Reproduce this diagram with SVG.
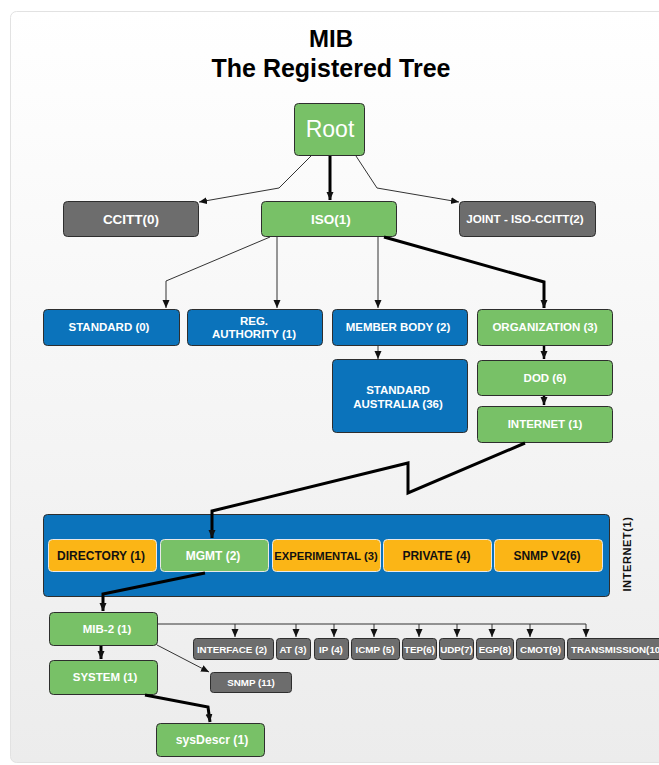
<svg xmlns="http://www.w3.org/2000/svg" width="659" height="765" viewBox="0 0 659 765">
<defs>
<linearGradient id="bg" x1="0" y1="0" x2="0" y2="1">
<stop offset="0" stop-color="#ffffff"/>
<stop offset="1" stop-color="#ececec"/>
</linearGradient>
<marker id="ah" markerUnits="userSpaceOnUse" markerWidth="10" markerHeight="10" refX="8" refY="3.5" orient="auto">
<path d="M0,0 L8,3.5 L0,7 z" fill="#111"/>
</marker>
</defs>
<style>
.n rect{stroke:#2e2e2e;stroke-width:1}
.g rect{fill:#78c167}
.b rect{fill:#0b73bb}
.k rect{fill:#6d6d6d}
.o rect{fill:#fbb516;stroke:#e8e8e8}
.gi rect{fill:#78c167;stroke:#e8e8e8}
text{font-family:"Liberation Sans",Arial,sans-serif;font-weight:bold;text-anchor:middle}
.w{fill:#ffffff;font-size:11.5px}
.d{fill:#111;font-size:12px}
.s{fill:#ffffff;font-size:9.8px}
.thin{fill:none;stroke:#333;stroke-width:1;marker-end:url(#ah)}
.thick{fill:none;stroke:#000;stroke-width:3;marker-end:url(#ah)}
.mid{fill:none;stroke:#000;stroke-width:2.5;marker-end:url(#ah)}
.line{fill:none;stroke:#333;stroke-width:1}
</style>
<rect x="10.5" y="11.5" width="660" height="751" rx="6" fill="url(#bg)" stroke="#e2e2e2"/>
<text x="331" y="47" style="font-size:24px;fill:#000">MIB</text>
<text x="331" y="77" style="font-size:25px;fill:#000">The Registered Tree</text>

<g id="root" class="n g"><rect x="294.5" y="103.5" width="70" height="52" rx="4"/><text x="330" y="137" style="font-size:23px;font-weight:normal;fill:#fff">Root</text></g>
<g id="ccitt" class="n k"><rect x="63.5" y="201.5" width="135" height="35" rx="4"/><text class="w" x="131" y="223.5" style="font-size:13.5px">CCITT(0)</text></g>
<g id="iso" class="n g"><rect x="261.5" y="201.5" width="135" height="35" rx="4"/><text class="w" x="331" y="223.5" style="font-size:13.5px">ISO(1)</text></g>
<g id="joint" class="n k"><rect x="459.5" y="201.5" width="136" height="35" rx="4"/><text class="w" x="525" y="223" style="font-size:11.7px">JOINT - ISO-CCITT(2)</text></g>

<g id="standard" class="n b"><rect x="43.5" y="309.5" width="136" height="36" rx="4"/><text class="w" x="109" y="331">STANDARD (0)</text></g>
<g id="reg" class="n b"><rect x="187.5" y="309.5" width="135" height="36" rx="4"/><text class="w" x="254" y="325">REG.</text><text class="w" x="254" y="338">AUTHORITY (1)</text></g>
<g id="member" class="n b"><rect x="332.5" y="309.5" width="135" height="36" rx="4"/><text class="w" x="398" y="331">MEMBER BODY (2)</text></g>
<g id="organization" class="n g"><rect x="477.5" y="309.5" width="135" height="36" rx="4"/><text class="w" x="545" y="331">ORGANIZATION (3)</text></g>
<g id="stdaus" class="n b"><rect x="332.5" y="359.5" width="135" height="73" rx="4"/><text class="w" x="398" y="394">STANDARD</text><text class="w" x="398" y="408">AUSTRALIA (36)</text></g>
<g id="dod" class="n g"><rect x="477.5" y="360.5" width="135" height="35" rx="4"/><text class="w" x="545" y="382">DOD (6)</text></g>
<g id="internet" class="n g"><rect x="477.5" y="406.5" width="135" height="36" rx="4"/><text class="w" x="545" y="428">INTERNET (1)</text></g>

<g id="internet-group" class="n b"><rect x="43.5" y="514.5" width="566" height="82" rx="4"/>
<text x="627" y="554" transform="rotate(-90 627 554)" style="font-size:11px;fill:#111;letter-spacing:0.6px" dominant-baseline="central">INTERNET(1)</text></g>
<g id="directory" class="n o"><rect x="48.5" y="539.5" width="108" height="32" rx="4"/><text class="d" x="101" y="559.5">DIRECTORY (1)</text></g>
<g id="mgmt" class="n gi"><rect x="160.5" y="539.5" width="108" height="32" rx="4"/><text class="w" x="213" y="559.5" style="font-size:12px">MGMT (2)</text></g>
<g id="experimental" class="n o"><rect x="272.5" y="539.5" width="108" height="32" rx="4"/><text class="d" x="326" y="559.5" style="font-size:11.2px">EXPERIMENTAL (3)</text></g>
<g id="private" class="n o"><rect x="383.5" y="539.5" width="108" height="32" rx="4"/><text class="d" x="436.5" y="559.5">PRIVATE (4)</text></g>
<g id="snmpv2" class="n o"><rect x="494.5" y="539.5" width="108" height="32" rx="4"/><text class="d" x="547" y="559.5">SNMP V2(6)</text></g>

<g id="mib2" class="n g"><rect x="49.5" y="612.5" width="108" height="33" rx="4"/><text class="w" x="107" y="633">MIB-2 (1)</text></g>
<g id="system" class="n g"><rect x="49.5" y="660.5" width="108" height="34" rx="4"/><text class="w" x="105" y="681">SYSTEM (1)</text></g>
<g id="sysdescr" class="n g"><rect x="156.5" y="723.5" width="108" height="33" rx="4"/><text class="w" x="212" y="744" style="font-size:12.2px">sysDescr (1)</text></g>

<g id="interface" class="n k"><rect x="193.5" y="638.5" width="80" height="21" rx="3"/><text class="s" x="232" y="652.5">INTERFACE (2)</text></g>
<g id="at" class="n k"><rect x="276.5" y="638.5" width="34" height="21" rx="3"/><text class="s" x="293" y="652.5">AT (3)</text></g>
<g id="ip" class="n k"><rect x="314.5" y="638.5" width="34" height="21" rx="3"/><text class="s" x="331" y="652.5">IP (4)</text></g>
<g id="icmp" class="n k"><rect x="351.5" y="638.5" width="48" height="21" rx="3"/><text class="s" x="375" y="652.5">ICMP (5)</text></g>
<g id="tep" class="n k"><rect x="402.5" y="638.5" width="34" height="21" rx="3"/><text class="s" x="419.5" y="652.5">TEP(6)</text></g>
<g id="udp" class="n k"><rect x="439.5" y="638.5" width="34" height="21" rx="3"/><text class="s" x="456.5" y="652.5">UDP(7)</text></g>
<g id="egp" class="n k"><rect x="476.5" y="638.5" width="37" height="21" rx="3"/><text class="s" x="495" y="652.5">EGP(8)</text></g>
<g id="cmot" class="n k"><rect x="516.5" y="638.5" width="48" height="21" rx="3"/><text class="s" x="540.5" y="652.5">CMOT(9)</text></g>
<g id="transmission" class="n k"><rect x="567.5" y="638.5" width="110" height="21" rx="3"/><text class="s" x="571" y="652.5" style="text-anchor:start">TRANSMISSION(10)</text></g>
<g id="snmp11" class="n k"><rect x="210.5" y="672.5" width="81" height="20" rx="3"/><text class="s" x="251" y="686">SNMP (11)</text></g>

<g id="connectors">
<path class="thin" d="M311,156 L279,188 L199,202"/>
<path class="thick" d="M330,156 L330,200"/>
<path class="thin" d="M356,156 L377,188 L459,202"/>
<path class="thin" d="M270,237 L166,281 L166,308"/>
<path class="thin" d="M277,237 L277,308"/>
<path class="thin" d="M378,237 L378,308"/>
<path class="thick" d="M384,237 L544,282 L544,308"/>
<path class="thin" d="M378,346 L378,359"/>
<path class="mid" d="M544,346 L544,359"/>
<path class="mid" d="M544,396 L544,405"/>
<path class="thick" d="M525,443 L408,493 L408,463 L212,511 L212,538"/>
<path class="thick" d="M205,573 L103,594 L103,611"/>
<path class="thick" d="M101,646 L101,659"/>
<path class="thick" d="M145,695 L208,707 L210,722"/>
<path class="line" d="M157,624 L586,624"/>
<path class="thin" d="M235,624 L235,637"/>
<path class="thin" d="M296,624 L296,637"/>
<path class="thin" d="M334,624 L334,637"/>
<path class="thin" d="M374,624 L374,637"/>
<path class="thin" d="M419,624 L419,637"/>
<path class="thin" d="M457,624 L457,637"/>
<path class="thin" d="M492,624 L492,637"/>
<path class="thin" d="M530,624 L530,637"/>
<path class="thin" d="M586,624 L586,637"/>
<path class="thin" d="M157,645 L209,672"/>
</g>
</svg>
